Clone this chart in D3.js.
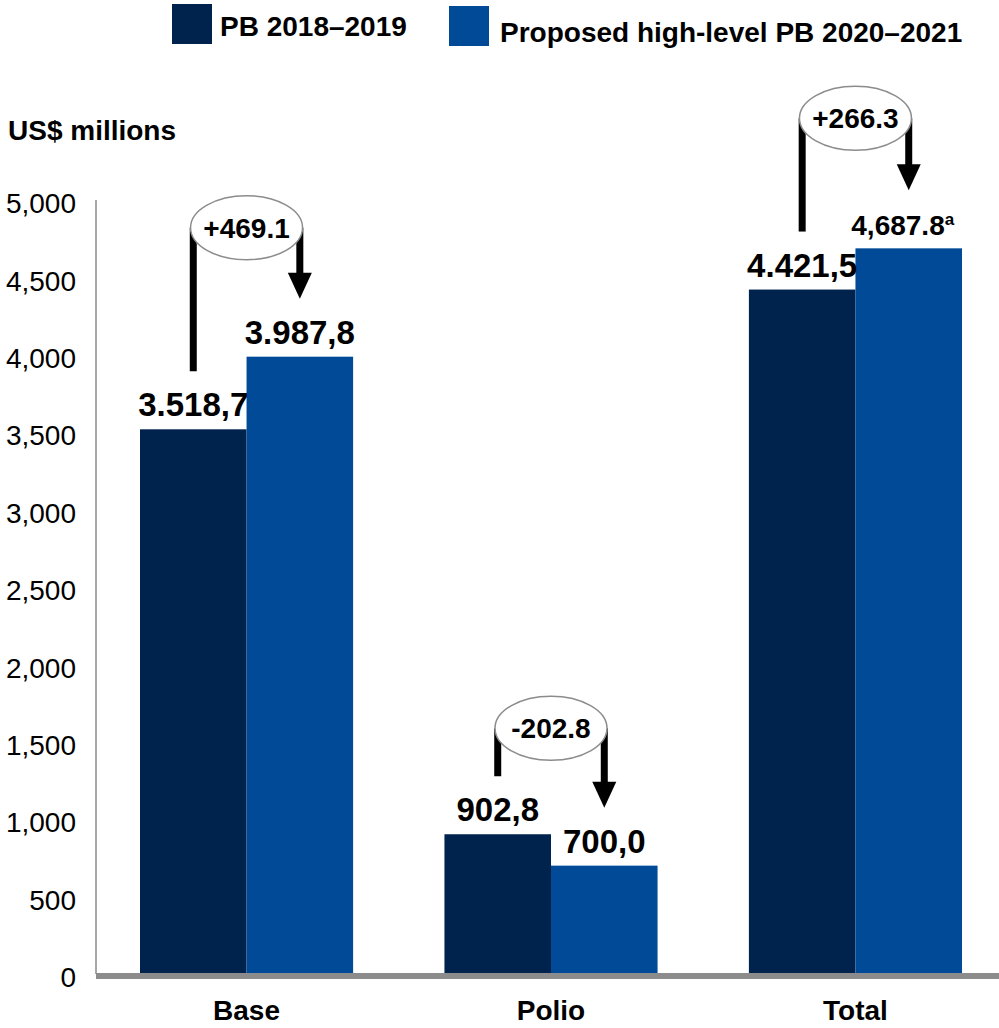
<!DOCTYPE html>
<html><head><meta charset="utf-8">
<script src="https://cdn.jsdelivr.net/npm/d3@7"></script>
<style>html,body{margin:0;padding:0;background:#fff}svg{display:block}</style>
</head><body>
<svg id="chart" width="999" height="1028"></svg>
<script>
// ---- data ----
const categories = ["Base", "Polio", "Total"];
const seriesNames = ["PB 2018\u20132019", "Proposed high-level PB 2020\u20132021"];
const values2018 = [3518.7, 902.8, 4421.5];
const values2020 = [3987.8, 700.0, 4687.8];
const labels2018 = ["3.518,7", "902,8", "4.421,5"];
const labels2020 = ["3.987,8", "700,0", "4,687.8"];
const labelNotes2020 = ["", "", "a"];
const changeLabels = ["+469.1", "-202.8", "+266.3"];
const yTicks = [0, 500, 1000, 1500, 2000, 2500, 3000, 3500, 4000, 4500, 5000];
const yTitle = "US$ millions";

// ---- style ----
const colors = ["#00234d", "#004a98"];
const font = "'Liberation Sans', Arial, sans-serif";
const bubbleLift = [129, 106, 130];

const svg = d3.select("#chart");
const x0 = d3.scaleBand().domain(categories).range([96, 1006]).paddingInner(0.3).paddingOuter(0.1445);
const x1 = d3.scaleBand().domain([0, 1]).range([0, x0.bandwidth()]);
const y = d3.scaleLinear().domain([0, 5000]).range([974, 200]);

// y axis line
svg.append("line").attr("x1", 96).attr("x2", 96).attr("y1", y(5000)).attr("y2", y(0))
  .attr("stroke", "#8a8a8a").attr("stroke-width", 1.5);

// tick labels
const yAxis = d3.axisLeft(y).tickValues(yTicks).tickFormat(d3.format(",")).tickSize(0).tickPadding(20);
const gy = svg.append("g").attr("transform", "translate(96,0)").call(yAxis);
gy.select(".domain").remove();
gy.selectAll("text").attr("font-family", font).attr("font-size", 28).attr("fill", "#000")
  .attr("dy", "0.45em");

// bars
const data = categories.map((c, i) => ({c, i, v: [values2018[i], values2020[i]]}));
const groups = svg.append("g").selectAll("g").data(data).join("g")
  .attr("transform", d => `translate(${x0(d.c)},0)`);
groups.selectAll("rect").data(d => d.v.map((v, k) => ({v, k}))).join("rect")
  .attr("x", d => x1(d.k)).attr("width", x1.bandwidth())
  .attr("y", d => y(d.v)).attr("height", d => y(0) - y(d.v))
  .attr("fill", d => colors[d.k]);

// x axis (thick grey)
svg.append("line").attr("x1", 96).attr("x2", 999).attr("y1", y(0) + 2).attr("y2", y(0) + 2)
  .attr("stroke", "#8c8c8c").attr("stroke-width", 6);

// category labels
svg.append("g").selectAll("text").data(categories).join("text")
  .attr("x", d => x0(d) + x0.bandwidth() / 2).attr("y", 1020)
  .attr("text-anchor", "middle").attr("font-family", font).attr("font-weight", "bold")
  .attr("font-size", 28).text(d => d);

// value labels
data.forEach(d => {
  const bx = x0(d.c);
  svg.append("text").attr("x", bx + x1(0) + x1.bandwidth() / 2).attr("y", y(values2018[d.i]) - 13)
    .attr("text-anchor", "middle").attr("font-family", font).attr("font-weight", "bold")
    .attr("font-size", 33).text(labels2018[d.i]);
  const t = svg.append("text").attr("x", bx + x1(1) + x1.bandwidth() / 2 - (labelNotes2020[d.i] ? 6 : 0))
    .attr("y", y(values2020[d.i]) - 13)
    .attr("text-anchor", "middle").attr("font-family", font).attr("font-weight", "bold")
    .attr("font-size", labelNotes2020[d.i] ? 28 : 33);
  t.append("tspan").text(labels2020[d.i]);
  if (labelNotes2020[d.i]) t.append("tspan").attr("font-size", 17).attr("dy", -10).text(labelNotes2020[d.i]);
});

// change annotations
data.forEach(d => {
  const bx = x0(d.c);
  const xl = bx + x1(0) + x1.bandwidth() / 2;
  const xr = bx + x1(1) + x1.bandwidth() / 2;
  const cx = bx + x0.bandwidth() / 2;
  const top = Math.min(y(values2018[d.i]), y(values2020[d.i]));
  const cy = top - bubbleLift[d.i];
  const g = svg.append("g");
  g.append("line").attr("x1", xl).attr("x2", xl).attr("y1", cy).attr("y2", y(values2018[d.i]) - 58)
    .attr("stroke", "#000").attr("stroke-width", 7);
  const tip = y(values2020[d.i]) - 58;
  g.append("line").attr("x1", xr).attr("x2", xr).attr("y1", cy).attr("y2", tip - 24)
    .attr("stroke", "#000").attr("stroke-width", 7);
  g.append("path").attr("d", `M${xr - 12},${tip - 26}L${xr + 12},${tip - 26}L${xr},${tip}Z`).attr("fill", "#000");
  g.append("ellipse").attr("cx", cx).attr("cy", cy).attr("rx", 56).attr("ry", 32)
    .attr("fill", "#fff").attr("stroke", "#8c8c8c").attr("stroke-width", 1.5);
  g.append("text").attr("x", cx).attr("y", cy).attr("dy", "0.36em").attr("text-anchor", "middle")
    .attr("font-family", font).attr("font-weight", "bold").attr("font-size", 28).text(changeLabels[d.i]);
});

// y title
svg.append("text").attr("x", 8).attr("y", 140).attr("font-family", font).attr("font-weight", "bold")
  .attr("font-size", 28).text(yTitle);

// legend
const legendPos = [{sx: 172, sy: 4, tx: 220, ty: 36}, {sx: 449, sy: 6, tx: 500, ty: 42}];
seriesNames.forEach((n, k) => {
  const p = legendPos[k];
  svg.append("rect").attr("x", p.sx).attr("y", p.sy).attr("width", 40).attr("height", 40).attr("fill", colors[k]);
  svg.append("text").attr("x", p.tx).attr("y", p.ty).attr("font-family", font).attr("font-weight", "bold")
    .attr("font-size", 28).text(n);
});
</script>
</body></html>
